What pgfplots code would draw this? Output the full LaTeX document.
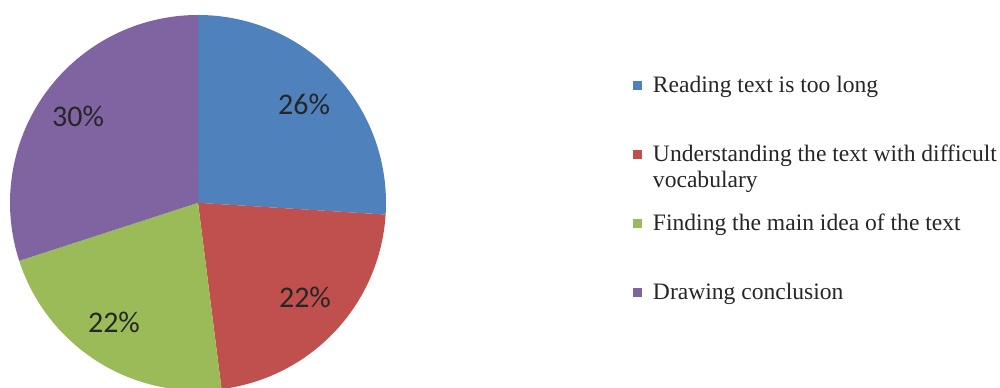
\documentclass[border=0pt]{standalone}
\usepackage{pgfplots}
\pgfplotsset{compat=1.18}
\usepackage{fontspec}
\setmainfont{Liberation Serif}
\newfontfamily\calibri{Carlito}
\definecolor{cblue}{HTML}{4F81BD}
\definecolor{cred}{HTML}{C0504D}
\definecolor{cgreen}{HTML}{9BBB59}
\definecolor{cpurple}{HTML}{8064A2}
% slice values (percent)
\def\va{26}\def\vb{22}\def\vc{22}\def\vd{30}
\begin{document}
\begin{tikzpicture}
\begin{axis}[
  scale only axis, width=500pt, height=194pt,
  xmin=-1.0532, xmax=4.2660, ymin=-0.9840, ymax=1.0798,
  hide axis, clip=true,
  legend cell align=left,
  legend style={draw=none, fill=none, inner sep=0pt, outer sep=0pt,
    at={(rel axis cs:0.633,0.812)}, anchor=north west,
    font=\fontsize{11.8}{13}\selectfont, text=black!85,
    row sep=20.5pt, column sep=4.5pt,
    nodes={text height=9pt, text depth=3pt, inner sep=1pt, anchor=base west}},
  legend image code/.code={\fill[#1] (0pt,1.5pt) rectangle (4.5pt,6pt);},
]
\addplot[fill=cblue, draw=none, domain={90}:{90-\va*3.6}, samples=80, variable=\t]
  ({cos(\t)},{sin(\t)}) -- (axis cs:0,0) -- cycle;
\addlegendentry{Reading text is too long}
\addplot[fill=cred, draw=none, domain={90-\va*3.6}:{90-(\va+\vb)*3.6}, samples=80, variable=\t]
  ({cos(\t)},{sin(\t)}) -- (axis cs:0,0) -- cycle;
\addlegendentry{\begin{tabular}[t]{@{}l@{}}Understanding the text with difficult\\vocabulary\end{tabular}}
\addplot[fill=cgreen, draw=none, domain={90-(\va+\vb)*3.6}:{90-(\va+\vb+\vc)*3.6}, samples=80, variable=\t]
  ({cos(\t)},{sin(\t)}) -- (axis cs:0,0) -- cycle;
\addlegendentry{Finding the main idea of the text}
\addplot[fill=cpurple, draw=none, domain={90-(\va+\vb+\vc)*3.6}:{-270}, samples=80, variable=\t]
  ({cos(\t)},{sin(\t)}) -- (axis cs:0,0) -- cycle;
\addlegendentry{Drawing conclusion}
\begin{scope}[every node/.style={anchor=base, font=\calibri\fontsize{15}{17}\selectfont, text=black!85}]
\node at (axis cs:0.564,0.468) {26\%};
\node at (axis cs:0.569,-0.559) {22\%};
\node at (axis cs:-0.447,-0.691) {22\%};
\node at (axis cs:-0.638,0.404) {30\%};
\end{scope}
\end{axis}
\pgfresetboundingbox
\path (current axis.south west) rectangle (current axis.north east);
\end{tikzpicture}
\end{document}
